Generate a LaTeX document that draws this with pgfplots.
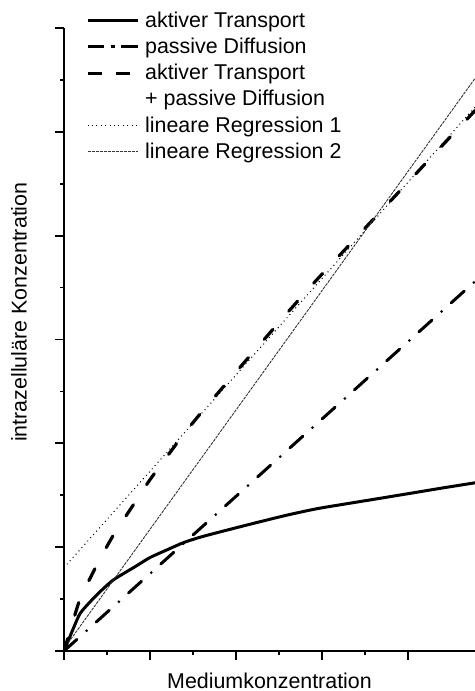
\documentclass[border=0pt]{standalone}
\usepackage{pgfplots}
\pgfplotsset{compat=1.18}
\usepackage{fontspec}
\setmainfont{Liberation Sans}
\begin{document}
\begin{tikzpicture}
\begin{axis}[
  scale only axis,
  width=205.5bp, height=311.5bp,
  xmin=0, xmax=4.779, ymin=0, ymax=6,
  axis x line*=bottom, axis y line*=left,
  xtick={0,1,2,3,4}, ytick={0,1,2,3,4,5,6},
  minor x tick num=1, minor y tick num=1,
  xticklabels={}, yticklabels={},
  tick align=outside,
  major tick length=4.5bp, minor tick length=2bp,
  axis line style={line width=0.9bp},
  every tick/.style={black, line width=0.9bp},
  label style={font=\fontsize{10.7bp}{12.8bp}\selectfont},
  xlabel={Mediumkonzentration},
  ylabel={intrazelluläre Konzentration},
  xlabel style={at={(axis description cs:0.5,-0.0594)}, anchor=base},
  ylabel style={at={(axis description cs:-0.0908,0.544)}, anchor=base},
  legend cell align=left,
  legend style={draw=none, fill=none, inner sep=0pt, outer sep=0pt,
     at={(axis description cs:0,1)}, anchor=north west, xshift=11bp, yshift=10.2bp,
     column sep=3bp, row sep=0pt,
     nodes={inner sep=0pt, text height=9.85bp, text depth=3.25bp},
     font=\fontsize{10.7bp}{12.8bp}\selectfont},
  legend image code/.code={\draw[#1] (0bp,0bp) -- (25bp,0bp);},
]
\coordinate (O) at (rel axis cs:0,0);
\addplot[black, line width=1.5bp, smooth, tension=0.4] coordinates {
 (0,0) (0.1,0.2) (0.186,0.36) (0.3,0.47) (0.4,0.556) (0.573,0.684) (0.826,0.812)
 (1.0,0.9) (1.2,0.975) (1.387,1.043) (1.6,1.10) (1.969,1.18) (2.279,1.245) (2.6,1.31)
 (2.938,1.37) (3.3,1.42) (3.597,1.46) (4.0,1.515) (4.4,1.57) (4.78,1.62)};
\addlegendentry{aktiver Transport}
\addplot[black, line width=1.5bp, line cap=round, dash pattern=on 8.7bp off 6.5bp on 0bp off 6.5bp,
  legend image post style={line cap=butt, dash pattern=on 8.3bp off 3.2bp on 2bp off 3.3bp}] coordinates {
 (0,0) (4.78,3.56)};
\addlegendentry{passive Diffusion}
\addplot[black, line width=1.6bp, line cap=round, dash pattern=on 6.6bp off 12.1bp, smooth, tension=0.4,
  legend image post style={line cap=butt, dash pattern=on 7.3bp off 6.8bp}] coordinates {
 (0,0) (0.1,0.275) (0.186,0.50) (0.3,0.695) (0.4,0.856) (0.573,1.114) (0.826,1.432)
 (1.0,1.65) (1.2,1.875) (1.387,2.083) (1.6,2.30) (1.969,2.657) (2.279,2.954) (2.6,3.26)
 (2.938,3.574) (3.3,3.895) (3.597,4.158) (4.0,4.515) (4.4,4.87) (4.78,5.205)};
\addlegendentry{aktiver Transport}
\addlegendimage{empty legend}
\addlegendentry{+ passive Diffusion}
\addplot[black, line width=0.5bp, dash pattern=on 0.5bp off 1.7bp] coordinates {
 (0,0.803) (4.78,5.239)};
\addlegendentry{lineare Regression 1}
\addplot[black!80, line width=0.45bp, dash pattern=on 1.5bp off 0.5bp] coordinates {
 (0.05,0.08) (4.78,5.516)};
\addlegendentry{lineare Regression 2}
\end{axis}
\pgfresetboundingbox
\path[use as bounding box] ([shift={(-32bp,-20bp)}]O) rectangle ([shift={(205.5bp,325.5bp)}]O);
\end{tikzpicture}
\end{document}
